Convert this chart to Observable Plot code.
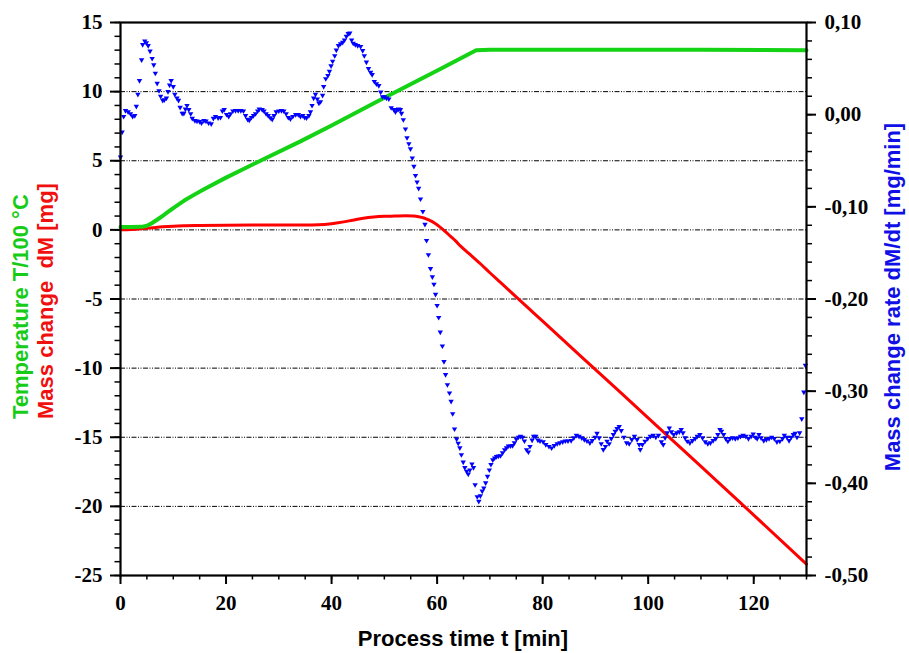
<!DOCTYPE html>
<html>
<head>
<meta charset="utf-8">
<script src="https://cdn.jsdelivr.net/npm/d3@7"></script>
<script src="https://cdn.jsdelivr.net/npm/@observablehq/plot@0.6"></script>
<style>
  html, body { margin: 0; padding: 0; background: #fff; }
  #chart svg { display: block; }
  #fontwarm { position: absolute; left: -9999px; top: 0; font-family: "Liberation Serif"; font-weight: bold; font-size: 21px; }
  #fontwarm2 { position: absolute; left: -9999px; top: 40px; font-family: "Liberation Sans"; font-weight: bold; font-size: 22px; }
</style>
</head>
<body>
<div id="fontwarm">0123456789-,</div>
<div id="fontwarm2">Process time</div>
<div id="chart"></div>
<script>
// ---- Data ----
// Temperature T/100 °C (left axis)
const tempT = [0, 2, 4, 5, 6, 7, 8, 9, 10, 12, 14, 16, 20, 26.5, 34.1, 40, 50, 60.6, 67.4, 70, 90, 110, 130];
const tempV = [0.2, 0.2, 0.22, 0.3, 0.5, 0.75, 1.02, 1.3, 1.58, 2.1, 2.55, 2.98, 3.78, 5.0, 6.4, 7.55, 9.55, 11.64, 13.0, 13.02, 13.03, 13.02, 13.0];

// Mass change dM [mg] (left axis)
const massT = [0, 2, 4, 6, 8, 10, 12, 15, 20, 25, 30, 35, 37.5, 40, 42, 44, 46, 48, 50, 52, 54, 55.5, 56.5, 57.5, 58.5, 59.5, 60.5, 61.5, 62.5, 63.5, 64.4, 66, 68.2, 70, 72, 74, 75.8, 80, 87.2, 95, 103.9, 110, 117.8, 130];
const massV = [0.0, 0.03, 0.08, 0.15, 0.22, 0.27, 0.3, 0.32, 0.34, 0.35, 0.35, 0.35, 0.37, 0.45, 0.56, 0.7, 0.84, 0.93, 0.98, 1.0, 1.02, 1.0, 0.95, 0.86, 0.7, 0.5, 0.22, -0.1, -0.45, -0.8, -1.16, -1.7, -2.45, -3.1, -3.8, -4.5, -5.14, -6.6, -9.13, -11.85, -14.97, -17.1, -19.85, -24.18];

// Mass change rate dM/dt [mg/min] (right axis)
const rateT = [0, 0.3, 0.6, 0.95, 1.45, 1.9, 2.3, 2.7, 3.0, 3.3, 3.6, 4.0, 4.2, 4.6, 4.9, 5.25, 5.6, 6.0, 6.3, 6.6, 6.95, 7.3, 7.6, 8.0, 8.3, 8.7, 9.0, 9.3, 9.6, 10.0,
  10.3, 10.7, 11.0, 11.3, 11.7, 12.0, 12.3, 12.6, 12.95, 13.3, 13.6, 14.1, 14.5, 15.0, 15.35, 15.8, 16.2, 16.7, 17.2, 17.6, 18.0, 18.5, 18.95, 19.3, 19.65, 20.1,
  20.5, 20.85, 21.3, 21.8, 22.3, 22.8, 23.3, 23.7, 24.1, 24.4, 24.8, 25.2, 25.6, 26.0, 26.3, 26.85, 27.2, 27.6, 28.0, 28.4, 28.75, 29.1, 29.5, 30.0,
  30.5, 30.95, 31.4, 31.8, 32.2, 32.65, 33.2, 33.7, 34.1, 34.55, 34.9, 35.25, 35.7, 36.0, 36.3, 36.6, 36.95, 37.3, 37.6, 37.9, 38.3, 38.5, 38.9, 39.3, 39.6, 39.9,
  40.2, 40.6, 40.9, 41.3, 41.7, 42.1, 42.45, 42.8, 43.15, 43.45, 43.8, 44.1, 44.5, 44.95, 45.5, 45.9, 46.2, 46.6, 47.0, 47.4, 47.7, 48.1, 48.5, 48.95, 49.3, 49.65,
  50.0, 50.4, 50.85, 51.3, 51.8, 52.1, 52.4, 52.7, 53.05, 53.25, 53.6, 54.0, 54.3, 54.65, 54.95, 55.3, 55.6, 55.9, 56.2, 56.5, 56.85, 57.3, 57.7, 58.0, 58.35,
  58.75, 59.1, 59.4, 59.7, 60.0, 60.3, 60.6, 61.0, 61.3, 61.6, 61.95, 62.35, 62.65, 62.95, 63.3, 63.7, 64.0, 64.3, 64.6, 64.95, 65.25, 65.6, 65.9, 66.2, 66.6, 66.9,
  67.2, 67.6, 67.9, 68.2, 68.55, 68.85, 69.2, 69.55, 69.9, 70.2, 70.55, 70.9, 71.25, 71.6, 72.0, 72.4, 72.8, 73.15, 73.5, 73.9, 74.3, 74.65, 75.0, 75.4, 75.8,
  76.2, 76.55, 76.95, 77.3, 77.6, 78.0, 78.3, 78.7, 79.1, 79.5, 80.1, 80.6, 81.2, 81.7, 82.2, 82.75, 83.25, 83.8, 84.3, 84.8, 85.4, 85.9, 86.4, 86.9, 87.4, 87.9,
  88.4, 88.95, 89.4, 89.95, 90.3, 90.7, 91.1, 91.5, 91.9, 92.2, 92.6, 93.0, 93.4, 93.75, 94.1, 94.5, 94.9, 95.4, 95.9, 96.4, 96.9, 97.4, 97.9, 98.3, 98.5, 98.9,
  99.4, 99.9, 100.4, 100.95, 101.45, 101.95, 102.5, 102.85, 103.2, 103.6, 104.0, 104.4, 104.85, 105.4, 105.9, 106.25, 106.6, 107.0, 107.4, 107.9, 108.4, 108.9,
  109.3, 109.8, 110.3, 110.8, 111.3, 111.8, 112.3, 112.8, 113.2, 113.6, 113.9, 114.3, 114.7, 115.1, 115.5, 116.0, 116.5, 117.0, 117.5, 118.0, 118.5, 119.0, 119.5,
  119.9, 120.3, 120.65, 121.0, 121.4, 121.9, 122.4, 122.9, 123.4, 123.9, 124.4, 124.95, 125.45, 125.8, 126.3, 126.7, 127.1, 127.5, 127.85, 128.2, 128.7, 129.1,
  129.5, 129.8];
const rateV = [-0.046, -0.019, -0.002, 0.0045, 0.003, 0.001, -0.002, -0.001, 0.009, 0.022, 0.037, 0.0595, 0.076, 0.080, 0.078, 0.075, 0.069, 0.061, 0.054, 0.045, 0.034, 0.026, 0.020, 0.0155, 0.016, 0.018, 0.025, 0.032, 0.037, 0.0305,
  0.022, 0.018, 0.0155, 0.008, 0.0015, 0.0015, 0.006, 0.010, 0.0055, 0.001, -0.004, -0.0065, -0.007, -0.0075, -0.009, -0.0065, -0.007, -0.009, -0.010, -0.004, -0.002, -0.0035, -0.003, 0.004, 0.0055, 0.0002,
  -0.002, 0.001, 0.004, 0.0045, 0.0045, 0.0045, 0.004, -0.001, -0.005, -0.006, -0.003, -0.001, 0.001, 0.004, 0.006, 0.0055, 0.004, 0.001, -0.001, -0.0035, -0.005, -0.001, 0.003, 0.004,
  0.0045, 0.004, 0.001, -0.003, -0.0045, -0.002, 0.000, 0.000, -0.002, -0.001, -0.003, -0.0035, -0.001, 0.003, 0.010, 0.018, 0.022, 0.017, 0.0125, 0.014, 0.021, 0.0305, 0.039, 0.0425, 0.047, 0.053,
  0.058, 0.064, 0.070, 0.075, 0.077, 0.0785, 0.081, 0.085, 0.088, 0.0885, 0.081, 0.0775, 0.076, 0.075, 0.074, 0.0695, 0.064, 0.057, 0.050, 0.046, 0.0435, 0.036, 0.0335, 0.0315, 0.0245, 0.0195,
  0.0195, 0.018, 0.017, 0.0075, 0.0055, 0.003, 0.0055, 0.006, 0.0055, 0.0015, -0.0055, -0.0155, -0.025, -0.0315, -0.037, -0.047, -0.056, -0.066, -0.073, -0.080, -0.0915, -0.105, -0.119, -0.1365, -0.152,
  -0.167, -0.176, -0.184, -0.195, -0.207, -0.220, -0.236, -0.251, -0.268, -0.282, -0.293, -0.302, -0.311, -0.3245, -0.341, -0.352, -0.3565, -0.3615, -0.369, -0.377, -0.383, -0.387, -0.390, -0.3855, -0.379, -0.383,
  -0.4015, -0.4145, -0.4195, -0.4135, -0.4085, -0.405, -0.3995, -0.3925, -0.3855, -0.3795, -0.3745, -0.3725, -0.371, -0.3705, -0.370, -0.367, -0.3635, -0.3615, -0.3595, -0.3595, -0.359, -0.356, -0.352, -0.350, -0.349,
  -0.350, -0.354, -0.3635, -0.366, -0.360, -0.353, -0.349, -0.349, -0.353, -0.354, -0.355, -0.358, -0.360, -0.3616, -0.359, -0.357, -0.356, -0.355, -0.354, -0.354, -0.3536, -0.3507, -0.348, -0.349, -0.3507, -0.3525,
  -0.354, -0.356, -0.3536, -0.350, -0.3457, -0.3507, -0.357, -0.3634, -0.360, -0.3543, -0.357, -0.3514, -0.3471, -0.3435, -0.3406, -0.3384, -0.3428, -0.350, -0.356, -0.357, -0.3525, -0.349, -0.3525, -0.358, -0.3634, -0.358,
  -0.3543, -0.3514, -0.349, -0.348, -0.350, -0.348, -0.355, -0.358, -0.3507, -0.3453, -0.340, -0.3442, -0.3471, -0.3453, -0.3442, -0.3417, -0.3453, -0.3507, -0.3543, -0.356, -0.3536, -0.3514,
  -0.349, -0.3471, -0.3507, -0.355, -0.357, -0.356, -0.3536, -0.3514, -0.3471, -0.3417, -0.3435, -0.3471, -0.3514, -0.3543, -0.3514, -0.3507, -0.3514, -0.3507, -0.349, -0.348, -0.349, -0.3514, -0.349,
  -0.3464, -0.350, -0.3514, -0.3471, -0.3507, -0.3536, -0.3525, -0.3514, -0.350, -0.3514, -0.355, -0.3543, -0.3514, -0.348, -0.350, -0.3536, -0.350, -0.3471, -0.3457, -0.350, -0.3453, -0.330,
  -0.301, -0.272];

// Axis ticks
const xMajor = [0, 20, 40, 60, 80, 100, 120];
const leftMajor = [-25, -20, -15, -10, -5, 0, 5, 10, 15];
const gridLevels = [-20, -15, -10, -5, 0, 5, 10];
const rightMajor = [-0.5, -0.4, -0.3, -0.2, -0.1, 0.0, 0.1];

// ---- Build ----
const toL = r => (r + 0.5) * 200 / 3 - 25;          // right-axis value -> left-axis units
const toR = L => (L + 25) * 0.015 - 0.5;
const fmtR = L => {
  const r = Math.round(toR(L) * 100) / 100;
  return r.toFixed(2).replace(".", ",");
};

const temp = tempT.map((t, i) => ({t, v: tempV[i]}));
const mass = massT.map((t, i) => ({t, v: massV[i]}));
const rate = rateT.map((t, i) => ({t, r: rateV[i]}));

const xMinor = d3.range(0, 131, 5);
const leftMinor = d3.range(-25, 16, 1);
const rightMinor = d3.range(0, 31).map(i => toL(-0.5 + i * 0.02));
const rightMajorL = rightMajor.map(toL);

const tickFont = {fontFamily: "Liberation Serif", fontWeight: "bold", fontSize: 21};

const plot = Plot.plot({
  width: 909,
  height: 653,
  marginLeft: 120,
  marginRight: 103,
  marginTop: 22,
  marginBottom: 78,
  x: {domain: [0, 130]},
  y: {domain: [-25, 15]},
  style: {background: "white", color: "black"},
  marks: [
    Plot.ruleY(gridLevels, {stroke: "black", strokeWidth: 1, strokeDasharray: "5,1.5,1,1.5,1,1.5"}),
    Plot.line(mass, {x: "t", y: "v", stroke: "#ff0000", strokeWidth: 3, curve: "monotone-x"}),
    Plot.line(temp, {x: "t", y: "v", stroke: "#14d214", strokeWidth: 4, curve: "linear"}),
    Plot.dot(rate, {x: "t", y: d => toL(d.r), symbol: "triangle", r: 2.0, rotate: 180, fill: "#0000ff", stroke: "none"}),
    Plot.frame({stroke: "black", strokeWidth: 2.2}),
    // minor ticks (no labels)
    Plot.axisY({ticks: leftMinor, tickSize: 5.5, fill: "none", label: null, strokeWidth: 1.5}),
    Plot.axisY({anchor: "right", ticks: rightMinor, tickSize: 5, fill: "none", label: null, strokeWidth: 1.5}),
    Plot.axisX({ticks: xMinor, tickSize: 4.5, fill: "none", label: null, strokeWidth: 1.5}),
    // major ticks with labels
    Plot.axisY({ticks: leftMajor, tickSize: 10, tickPadding: 8, tickFormat: d => String(d), label: null, strokeWidth: 2, ...tickFont}),
    Plot.axisY({anchor: "right", ticks: rightMajorL, tickSize: 9, tickPadding: 9, tickFormat: fmtR, label: null, strokeWidth: 2, ...tickFont}),
    Plot.axisX({ticks: xMajor, tickSize: 9, tickPadding: 11, tickFormat: d => String(d), label: null, strokeWidth: 2, ...tickFont})
  ]
});

const svg = d3.select(plot);
svg.selectAll('g[aria-label$="tick label"]')
  .attr("font-family", "Liberation Serif")
  .attr("font-weight", "bold")
  .attr("font-size", 21);

function title(txt, x, y, color, anchor, rotate) {
  svg.append("text")
    .attr("transform", `translate(${x},${y})` + (rotate ? " rotate(-90)" : ""))
    .attr("text-anchor", anchor)
    .attr("fill", color)
    .attr("font-family", "Liberation Sans")
    .attr("font-weight", "bold")
    .attr("font-size", 22)
    .style("white-space", "pre")
    .text(txt);
}
title("Temperature T/100 °C", 28, 419, "#17cc17", "start", true);
title("Mass change  dM [mg]", 53, 419, "#f01010", "start", true);
title("Mass change rate dM/dt [mg/min]", 900, 297, "#1010e6", "middle", true);
title("Process time t [min]", 463, 646, "black", "middle", false);

document.getElementById("chart").appendChild(plot);

// force font resolution / layout of all texts
plot.querySelectorAll("text").forEach(t => { getComputedStyle(t).fontFamily; t.getBBox(); });
if (document.fonts && document.fonts.load) {
  document.fonts.load("bold 21px 'Liberation Serif'").then(() => {
    plot.querySelectorAll('g[aria-label$="tick label"] text').forEach(t => t.getBBox());
  });
}
</script>
</body>
</html>
